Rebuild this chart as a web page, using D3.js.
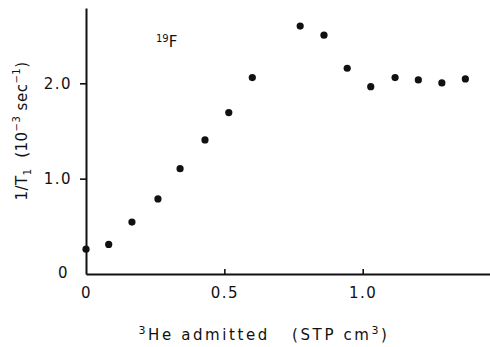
<!DOCTYPE html>
<html>
<head>
<meta charset="utf-8">
<script src="https://cdn.jsdelivr.net/npm/d3@7"></script>
<style>
  html, body { margin: 0; padding: 0; background: #fff; }
  svg { display: block; }
  text { font-family: "DejaVu Sans", "Liberation Sans", Arial, sans-serif; fill: #111; white-space: pre; }
</style>
</head>
<body>
<div id="chart"></div>
<script>
// Data
const heAdmitted = [0, 0.082, 0.166, 0.26, 0.34, 0.43, 0.516, 0.601, 0.774, 0.86, 0.944, 1.029, 1.117, 1.201, 1.286, 1.371];
const relaxRate  = [0.26, 0.31, 0.545, 0.787, 1.105, 1.406, 1.693, 2.06, 2.60, 2.505, 2.158, 1.965, 2.06, 2.036, 2.004, 2.046];
const xTickValues = [0.5, 1.0];
const xTickLabels = ["0", "0.5", "1.0"];
const yTickValues = [0, 1, 2];
const yTickLabels = ["0", "1.0", "2.0"];

const W = 490, H = 347;
const FONT = "DejaVu Sans, Liberation Sans, Arial, sans-serif";
const svg = d3.select("#chart").append("svg").attr("width", W).attr("height", H);

const x = d3.scaleLinear().domain([0, 1.46]).range([86, 490]);
const y = d3.scaleLinear().domain([0, 2.79]).range([274, 8]);

const ink = "#111";

// X axis
const xAxis = svg.append("g").attr("transform", `translate(0,${y(0)})`)
  .call(d3.axisBottom(x).tickValues([0, 0.5, 1.0]).tickSizeInner(-5).tickSizeOuter(0)
        .tickPadding(13).tickFormat((d, i) => xTickLabels[i]));
xAxis.select(".domain").attr("stroke", ink).attr("stroke-width", 2);
xAxis.selectAll(".tick line").attr("stroke", ink).attr("stroke-width", 1.6)
  .filter(d => !xTickValues.includes(d)).remove();
xAxis.selectAll(".tick text").attr("font-size", 15).attr("font-family", FONT).attr("fill", ink)
  .attr("letter-spacing", 1.5);

// Y axis
const yAxis = svg.append("g").attr("transform", `translate(${x(0)},0)`)
  .call(d3.axisLeft(y).tickValues(yTickValues).tickSizeInner(6).tickSizeOuter(0)
        .tickPadding(8).tickFormat((d, i) => yTickLabels[i]));
yAxis.select(".domain").attr("stroke", ink).attr("stroke-width", 2);
yAxis.selectAll(".tick line").attr("stroke", ink).attr("stroke-width", 1.6)
  .filter(d => d === 0).remove();
yAxis.selectAll(".tick text").attr("font-size", 15).attr("font-family", FONT).attr("fill", ink)
  .attr("letter-spacing", 1.5)
  .filter(d => d === 0).attr("x", -17).attr("dy", "0.2em");

// Points
svg.append("g").selectAll("circle")
  .data(heAdmitted.map((v, i) => [v, relaxRate[i]]))
  .join("circle")
  .attr("cx", d => x(d[0]))
  .attr("cy", d => y(d[1]))
  .attr("r", 3.6)
  .attr("fill", ink);

// 19F label
const fl = svg.append("text").attr("x", 156).attr("y", 47).attr("font-size", 15);
fl.append("tspan").attr("font-size", 10).attr("dy", -5).text("19");
fl.append("tspan").attr("dy", 5).text("F");

// X axis title
const xt = svg.append("text").attr("x", 264).attr("y", 340).attr("text-anchor", "middle")
  .attr("font-size", 15).attr("letter-spacing", 2.6);
xt.append("tspan").attr("font-size", 11).attr("dy", -6).text("3");
xt.append("tspan").attr("dy", 6).text("He admitted   (STP cm");
xt.append("tspan").attr("font-size", 11).attr("dy", -6).text("3");
xt.append("tspan").attr("dy", 6).text(")");

// Y axis title
const yt = svg.append("text").attr("transform", "translate(27,131) rotate(-90)")
  .attr("text-anchor", "middle").attr("font-size", 15).attr("letter-spacing", 0.5);
yt.append("tspan").text("1/T");
yt.append("tspan").attr("font-size", 10).attr("dy", 4).text("1");
yt.append("tspan").attr("dy", -4).text("  (10");
yt.append("tspan").attr("font-size", 10).attr("dy", -7).text("−3");
yt.append("tspan").attr("dy", 7).text(" sec");
yt.append("tspan").attr("font-size", 10).attr("dy", -7).text("−1");
yt.append("tspan").attr("dy", 7).text(")");
</script>
</body>
</html>
